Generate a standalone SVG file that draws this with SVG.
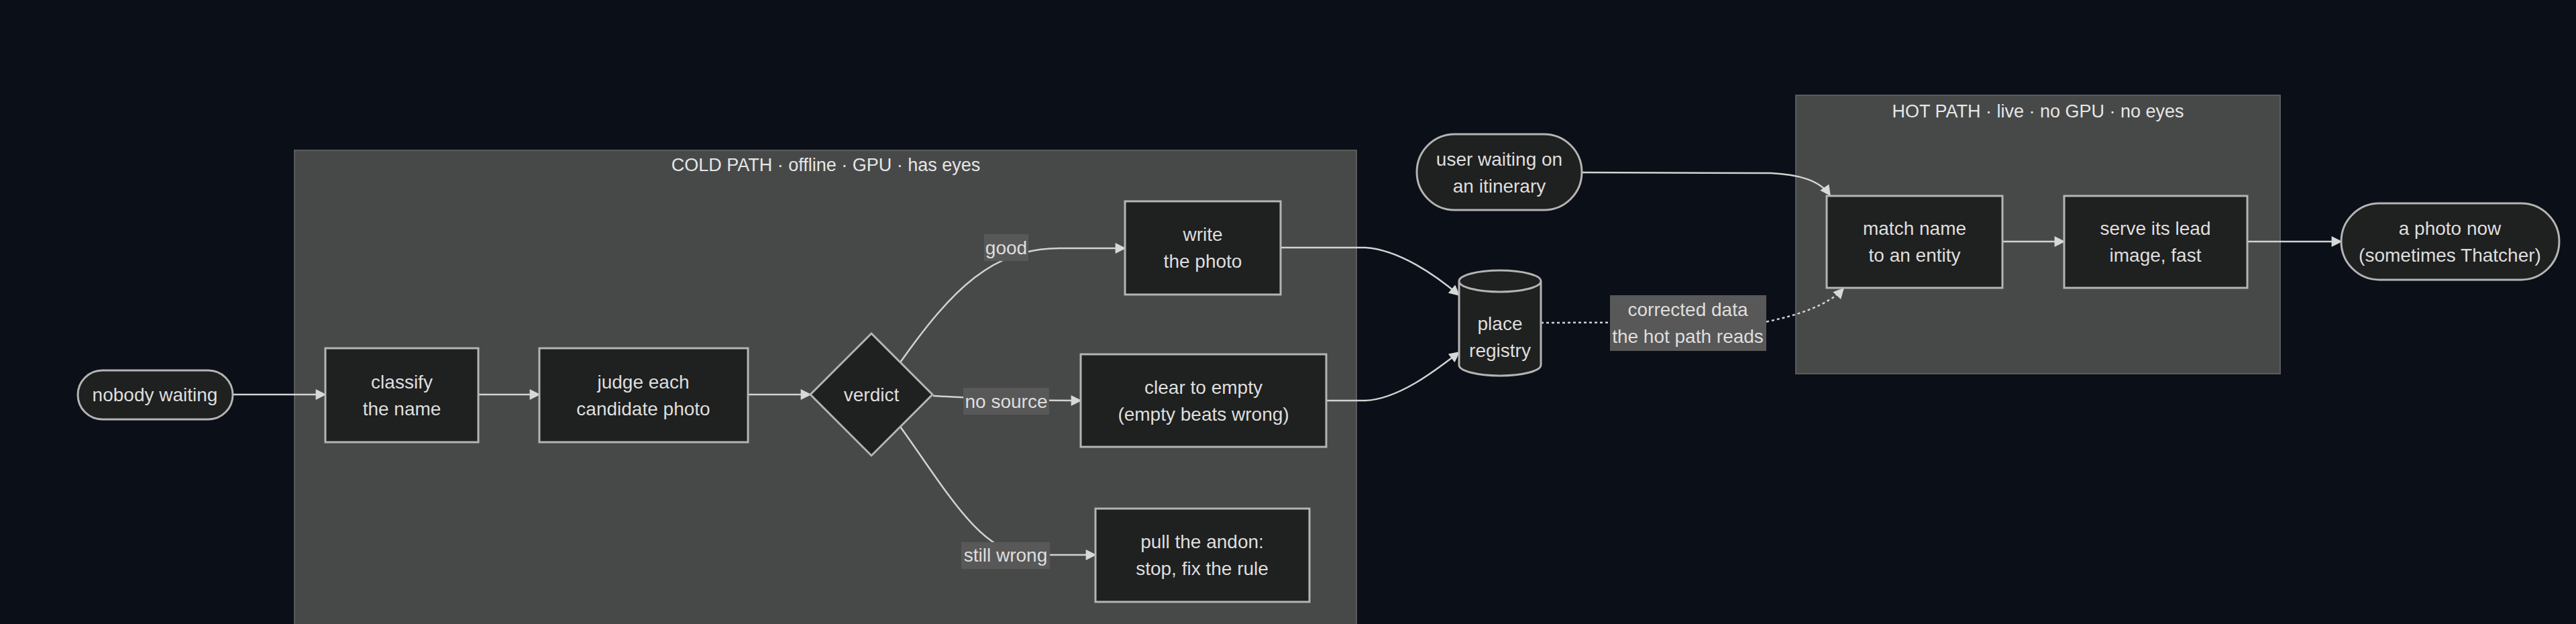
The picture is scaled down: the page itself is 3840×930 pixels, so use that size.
<svg xmlns="http://www.w3.org/2000/svg" width="3840" height="930" viewBox="0 0 3840 930">
<defs>
<style>
.bg{fill:#0b0f18}
.cluster rect{fill:#474949;stroke:#5a5b5b;stroke-width:2}
.ctitle{font-family:"Liberation Sans",Arial,sans-serif;font-size:27px;fill:#e6e6e6;text-anchor:middle;dominant-baseline:central}
.node rect,.node path,.node polygon{fill:#1f2020;stroke:#b4b4b4;stroke-width:3}
.t{font-family:"Liberation Sans",Arial,sans-serif;font-size:28px;fill:#dedede;text-anchor:middle;dominant-baseline:central}
.edge{fill:none;stroke:#d2d2d2;stroke-width:2.5;marker-end:url(#arr)}
.dot{stroke-dasharray:4 4}
.lbl rect{fill:#585858}
</style>
<marker id="arr" viewBox="0 0 10 10" refX="9" refY="5" markerUnits="userSpaceOnUse" markerWidth="17" markerHeight="16" orient="auto">
<path d="M0,0 L10,5 L0,10 z" fill="#d8d8d8"/>
</marker>
</defs>
<rect class="bg" x="0" y="0" width="3840" height="930"/>

<g id="cold-path" class="cluster">
<rect x="439" y="224" width="1583" height="720"/>
<text class="ctitle" x="1231" y="246">COLD PATH · offline · GPU · has eyes</text>
</g>
<g id="hot-path" class="cluster">
<rect x="2677" y="142" width="722" height="415"/>
<text class="ctitle" x="3038" y="166">HOT PATH · live · no GPU · no eyes</text>
</g>

<g id="connectors">
<path class="edge" d="M347,588 L485,588"/>
<path class="edge" d="M713,588 L804,588"/>
<path class="edge" d="M1115,588 L1208,588"/>
<path class="edge" d="M1342,540 C1420,430 1480,370 1580,370 L1677,370"/>
<path class="edge" d="M1391,590 C1450,593 1500,597 1611,597"/>
<path class="edge" d="M1342,636 C1410,730 1460,822 1530,827 L1633,827"/>
<path class="edge" d="M1909,369 L2035,369 C2085,372 2140,410 2175,440"/>
<path class="edge" d="M1977,597 L2035,597 C2085,595 2140,552 2175,525"/>
<path class="edge" d="M2358,257 L2640,258 C2680,260 2712,268 2728,291"/>
<path class="edge dot" d="M2297,481 L2631,480 C2680,470 2725,455 2748,430"/>
<path class="edge" d="M2985,360 L3077,360"/>
<path class="edge" d="M3350,360 L3490,360"/>
</g>

<g id="edge-labels">
<g class="lbl" id="lbl-good"><rect x="1467" y="349" width="66" height="40"/><text class="t" x="1500" y="369">good</text></g>
<g class="lbl" id="lbl-nosource"><rect x="1436" y="578" width="128" height="40"/><text class="t" x="1500" y="598">no source</text></g>
<g class="lbl" id="lbl-stillwrong"><rect x="1433" y="808" width="132" height="40"/><text class="t" x="1499" y="827">still wrong</text></g>
<g class="lbl" id="lbl-corrected"><rect x="2400" y="440" width="233" height="83"/><text class="t" x="2516" y="461">corrected data</text><text class="t" x="2516" y="501">the hot path reads</text></g>
</g>

<g id="nobody" class="node">
<rect x="116" y="552" width="231" height="73" rx="36.5" ry="36.5"/>
<text class="t" x="231" y="588">nobody waiting</text>
</g>
<g id="classify" class="node">
<rect x="485" y="519" width="228" height="140"/>
<text class="t" x="599" y="569">classify</text>
<text class="t" x="599" y="609">the name</text>
</g>
<g id="judge" class="node">
<rect x="804" y="519" width="311" height="140"/>
<text class="t" x="959" y="569">judge each</text>
<text class="t" x="959" y="609">candidate photo</text>
</g>
<g id="verdict" class="node">
<polygon points="1299,497 1390,588 1299,679 1208,588"/>
<text class="t" x="1299" y="588">verdict</text>
</g>
<g id="write" class="node">
<rect x="1677" y="300" width="232" height="139"/>
<text class="t" x="1793" y="349">write</text>
<text class="t" x="1793" y="389">the photo</text>
</g>
<g id="clear" class="node">
<rect x="1611" y="528" width="366" height="138"/>
<text class="t" x="1794" y="577">clear to empty</text>
<text class="t" x="1794" y="617">(empty beats wrong)</text>
</g>
<g id="andon" class="node">
<rect x="1633" y="758" width="319" height="139"/>
<text class="t" x="1792" y="807">pull the andon:</text>
<text class="t" x="1792" y="847">stop, fix the rule</text>
</g>
<g id="registry" class="node">
<path d="M2175,419 A61,16 0 0,0 2297,419 A61,16 0 0,0 2175,419 L2175,544 A61,16 0 0,0 2297,544 L2297,419"/>
<text class="t" x="2236" y="482">place</text>
<text class="t" x="2236" y="522">registry</text>
</g>
<g id="user" class="node">
<rect x="2112" y="200" width="246" height="113" rx="56.5" ry="56.5"/>
<text class="t" x="2235" y="237">user waiting on</text>
<text class="t" x="2235" y="277">an itinerary</text>
</g>
<g id="match" class="node">
<rect x="2723" y="292" width="262" height="137"/>
<text class="t" x="2854" y="340">match name</text>
<text class="t" x="2854" y="380">to an entity</text>
</g>
<g id="serve" class="node">
<rect x="3077" y="292" width="273" height="137"/>
<text class="t" x="3213" y="340">serve its lead</text>
<text class="t" x="3213" y="380">image, fast</text>
</g>
<g id="photo" class="node">
<rect x="3490" y="303" width="325" height="114" rx="57" ry="57"/>
<text class="t" x="3652" y="340">a photo now</text>
<text class="t" x="3652" y="380">(sometimes Thatcher)</text>
</g>
</svg>
